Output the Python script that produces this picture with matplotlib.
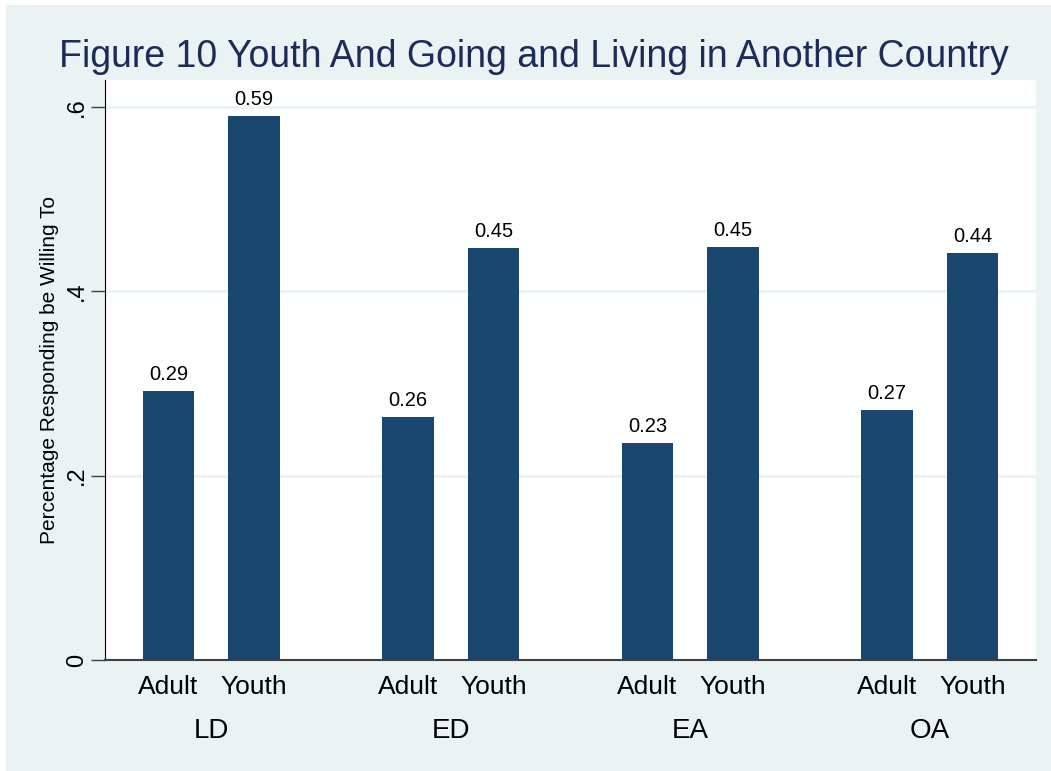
import matplotlib

matplotlib.use("Agg")
import matplotlib.pyplot as plt
import numpy as np
from matplotlib.patches import Rectangle

regions = ["LD", "ED", "EA", "OA"]
groups = ["Adult", "Youth"]
adult = [0.292, 0.2636, 0.2354, 0.271]
youth = [0.590, 0.447, 0.448, 0.4416]
bar_text_adult = ["0.29", "0.26", "0.23", "0.27"]
bar_text_youth = ["0.59", "0.45", "0.45", "0.44"]

W, H = 1051, 771
bg = "#eaf2f3"
bar_color = "#1a476f"
plt.rcParams["font.family"] = ["Liberation Sans", "DejaVu Sans"]

fig = plt.figure(figsize=(W / 100, H / 100), dpi=100)
fig.patch.set_facecolor("white")
fig.patches.append(Rectangle((6 / W, 1 - 770 / H), (W - 6) / W, 765 / H,
                             transform=fig.transFigure, color=bg, zorder=-10))

ax = fig.add_axes([105 / W, (H - 660) / H, 931 / W, 580 / H])
ax.set_facecolor("white")

centers = np.arange(len(regions))
off = 0.1785
width = 0.217
b1 = ax.bar(centers - off, adult, width, color=bar_color, zorder=2)
b2 = ax.bar(centers + off, youth, width, color=bar_color, zorder=2)
ax.bar_label(b1, labels=bar_text_adult, padding=5, fontsize=14.5)
ax.bar_label(b2, labels=bar_text_youth, padding=5, fontsize=14.5)

ax.set_xlim(-0.4436, 3.4436)
ax.set_ylim(0, 0.6293)
ax.set_yticks([0, 0.2, 0.4, 0.6])
ax.set_yticklabels(["0", ".2", ".4", ".6"], rotation=90, va="center", fontsize=17)
ax.yaxis.grid(True, color=bg, linewidth=2, zorder=1)
ax.set_axisbelow(True)
ax.tick_params(axis="y", length=10, width=1, color="#404040", pad=2)

xt = np.concatenate([centers - off, centers + off])
ax.set_xticks(xt)
ax.set_xticklabels(groups[:1] * 4 + groups[1:] * 4, fontsize=19)
ax.tick_params(axis="x", length=0, pad=11)
for i, r in enumerate(regions):
    ax.text(i, -0.123, r, transform=ax.get_xaxis_transform(), ha="center",
            va="center", fontsize=20)

for side in ["top", "right"]:
    ax.spines[side].set_visible(False)
ax.spines["left"].set_color("black")
ax.spines["bottom"].set_color("#404040")
ax.spines["bottom"].set_linewidth(1.5)

ax.set_ylabel("Percentage Responding be Willing To", fontsize=15, labelpad=5)
fig.text(534 / W, 1 - 57 / H, "Figure 10 Youth And Going and Living in Another Country",
         ha="center", va="center", fontsize=27, color="#1c2b58")

fig.savefig("out.png", dpi=100)
